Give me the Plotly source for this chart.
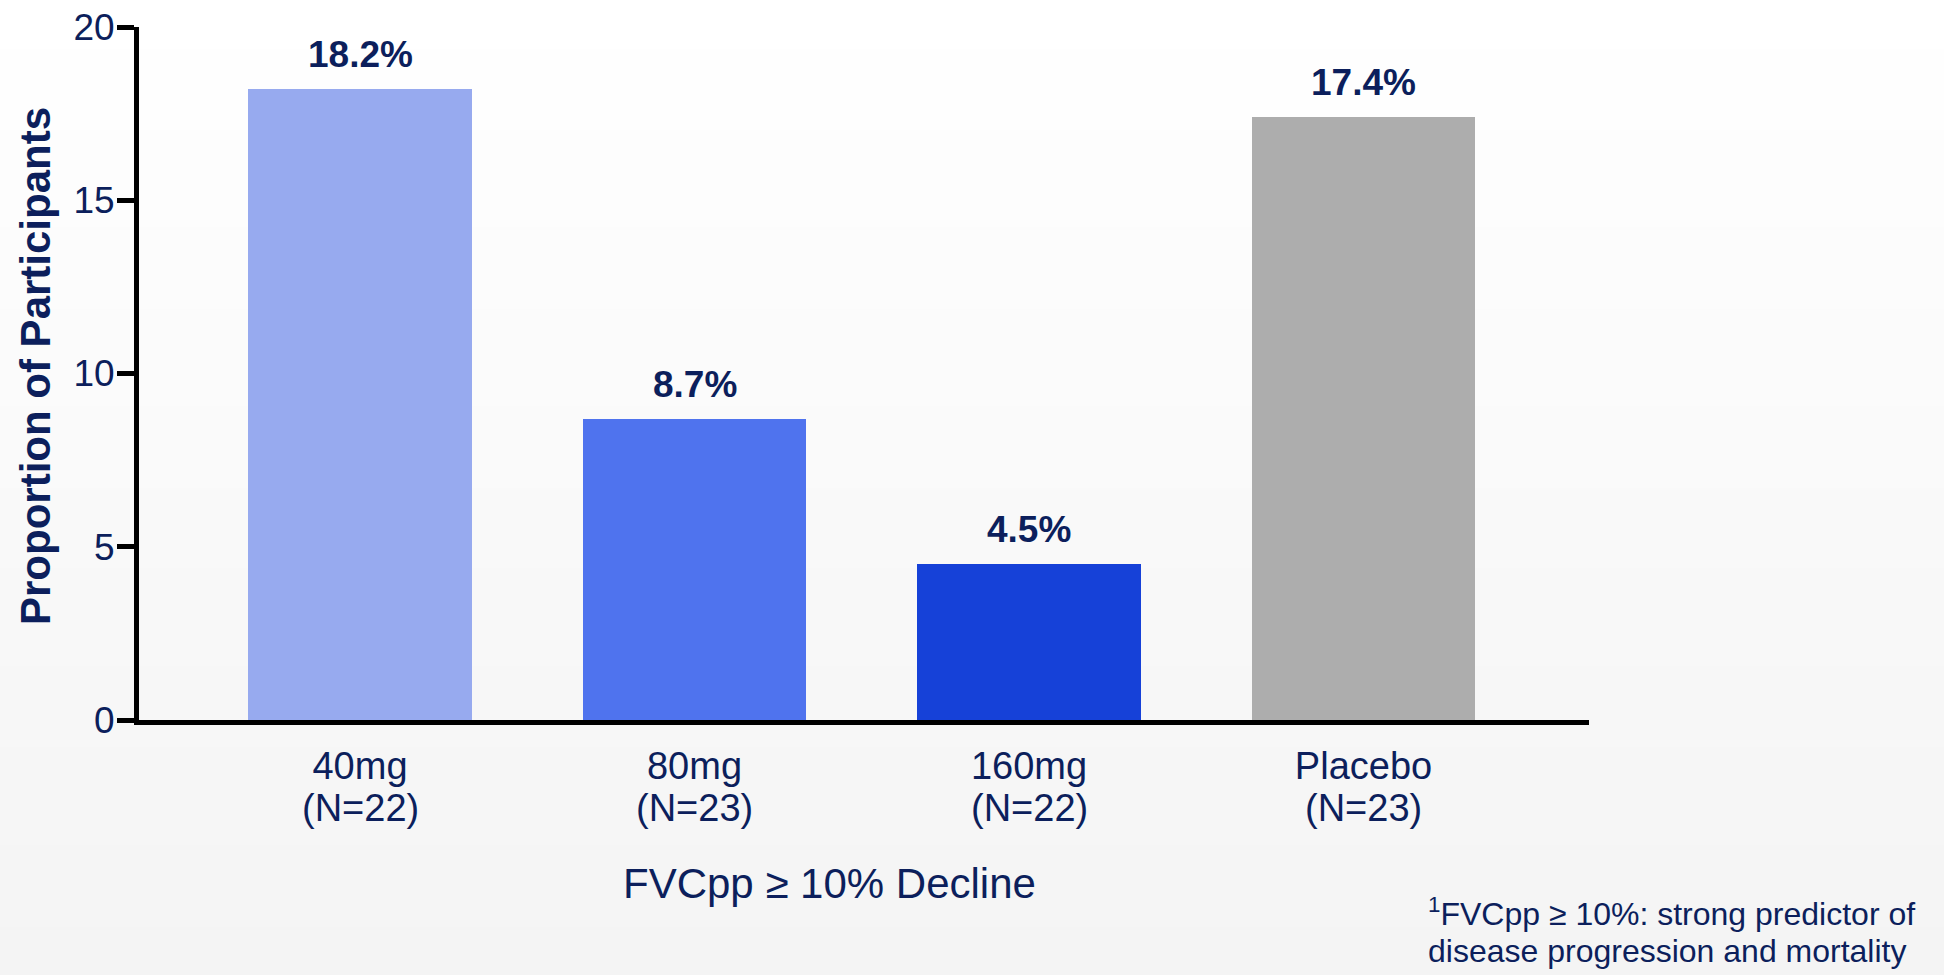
import plotly.graph_objects as go

# Proportion of participants with FVCpp >= 10% decline, by dose group
groups = ["40mg", "80mg", "160mg", "Placebo"]
group_n = ["(N=22)", "(N=23)", "(N=22)", "(N=23)"]
proportions = [18.2, 8.7, 4.5, 17.4]
bar_colors = ["#97aaef", "#4f73ee", "#1641d8", "#adadad"]
y_ticks = [0, 5, 10, 15, 20]

NAVY = "#0c1f5c"
FONT = "Liberation Sans, Arial, sans-serif"

W, H = 1944, 975
M_L, M_R, M_T, M_B = 139, 355, 27, 255
plot_h = H - M_T - M_B
plot_w = W - M_L - M_R

fig = go.Figure()
fig.add_trace(go.Bar(
    x=list(range(len(groups))),
    y=proportions,
    width=0.667,
    marker=dict(color=bar_colors, line=dict(width=0)),
    hoverinfo="skip",
))

# thin overlay axis providing the fine tick dots along the baseline
fig.add_trace(go.Scatter(x=[0], y=[0], xaxis="x2", mode="markers",
                         marker=dict(opacity=0), hoverinfo="skip", showlegend=False))


def py(px):
    # convert a pixel row to paper y
    return (H - M_B - px) / plot_h


def pxx(px):
    return (px - M_L) / plot_w


annotations = []
for i, v in enumerate(proportions):
    annotations.append(dict(
        x=i, y=v, xref="x", yref="y", text=f"<b>{v:.1f}%</b>",
        showarrow=False, yanchor="bottom", yshift=12,
        font=dict(family=FONT, size=37, color=NAVY),
    ))

# group sizes on a second line under each category label
for i, n in enumerate(group_n):
    annotations.append(dict(
        x=i, y=py(808), xref="x", yref="paper", text=n,
        showarrow=False, xanchor="center", yanchor="middle",
        font=dict(family=FONT, size=38, color=NAVY),
    ))

annotations.append(dict(
    x=pxx(829), y=py(883), xref="paper", yref="paper",
    text="FVCpp ≥ 10% Decline", showarrow=False,
    xanchor="center", yanchor="middle",
    font=dict(family=FONT, size=42, color=NAVY),
))
annotations.append(dict(
    x=pxx(35), y=py(366), xref="paper", yref="paper",
    text="<b>Proportion of Participants</b>", showarrow=False, textangle=-90,
    xanchor="center", yanchor="middle",
    font=dict(family=FONT, size=42, color=NAVY),
))
annotations.append(dict(
    x=pxx(1426), y=py(912), xref="paper", yref="paper",
    text="<sup>1</sup>FVCpp ≥ 10%: strong predictor of", showarrow=False,
    xanchor="left", yanchor="middle",
    font=dict(family=FONT, size=32, color=NAVY),
))
annotations.append(dict(
    x=pxx(1426), y=py(951), xref="paper", yref="paper",
    text="disease progression and mortality", showarrow=False,
    xanchor="left", yanchor="middle",
    font=dict(family=FONT, size=32, color=NAVY),
))

# soft vertical background gradient
shapes = []
n_bands = 60
for k in range(n_bands):
    y0 = k * H / n_bands - (2 if k == 0 else 0)
    y1 = (k + 1) * H / n_bands + (3 if k == n_bands - 1 else 1)
    t = (k + 0.5) / n_bands
    c = round(255 - 11 * t)
    shapes.append(dict(
        type="rect", xref="paper", yref="paper", layer="below",
        x0=pxx(-2), x1=pxx(W + 2), y0=py(y1), y1=py(y0),
        fillcolor=f"rgb({c},{c},{c})", line=dict(width=0),
    ))

# category axis range chosen so the bar pitch is ~334.5 px
x_lo = -(360 - M_L) / 334.5
x_hi = x_lo + plot_w / 334.5

fig.update_layout(
    width=W, height=H,
    margin=dict(l=M_L, r=M_R, t=M_T, b=M_B, pad=0, autoexpand=False),
    paper_bgcolor="#ffffff",
    plot_bgcolor="rgba(0,0,0,0)",
    showlegend=False,
    bargap=0,
    xaxis=dict(
        range=[x_lo, x_hi], automargin=False,
        tickmode="array", tickvals=list(range(len(groups))), ticktext=groups,
        ticks="", showgrid=False, zeroline=False,
        showline=True, linecolor="black", linewidth=5,
        tickfont=dict(family=FONT, size=38, color=NAVY),
        ticklabelstandoff=8,
    ),
    xaxis2=dict(
        overlaying="x", anchor="y", side="bottom", automargin=False,
        range=[0, plot_w], dtick=20, tick0=0,
        ticks="outside", ticklen=3, tickwidth=2, tickcolor="black",
        showticklabels=False, showgrid=False, zeroline=False, showline=False,
    ),
    yaxis=dict(
        range=[0, 20], tickvals=y_ticks, automargin=False,
        ticks="outside", ticklen=17, tickwidth=5, tickcolor="black",
        showgrid=False, zeroline=False,
        showline=True, linecolor="black", linewidth=5,
        tickfont=dict(family=FONT, size=37, color=NAVY),
        ticklabelstandoff=-5,
    ),
    annotations=annotations,
    shapes=shapes,
)

fig.write_html("out.html")
